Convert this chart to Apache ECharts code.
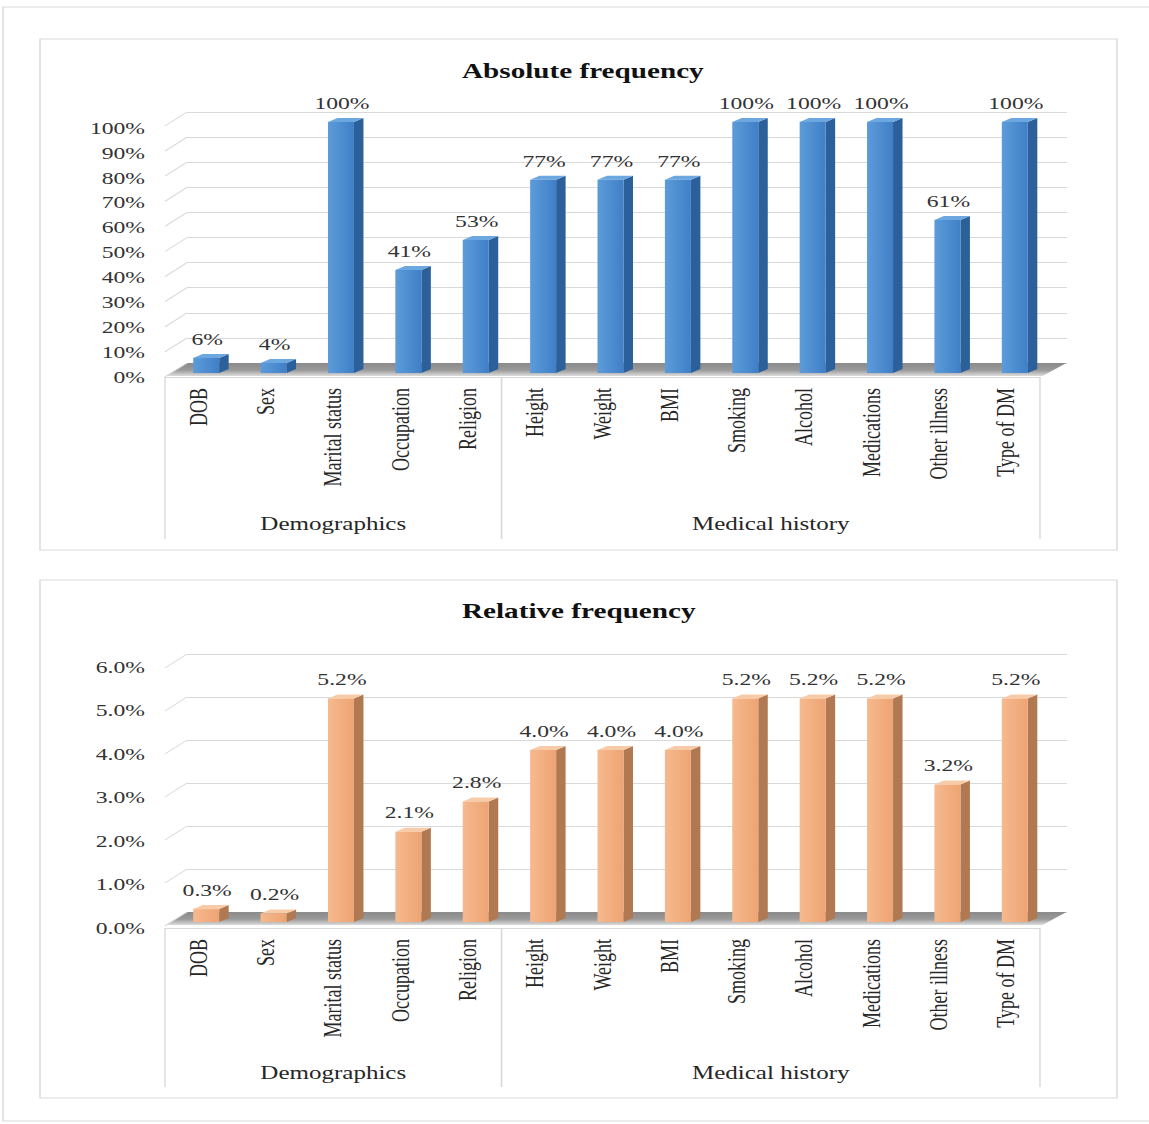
<!DOCTYPE html>
<html>
<head>
<meta charset="utf-8">
<script src="https://cdn.jsdelivr.net/npm/echarts@6/dist/echarts.min.js"></script>
<style>
  html, body { margin: 0; padding: 0; background: #ffffff; overflow: hidden; }
  #wrap { width: 1149px; height: 1124px; position: relative; overflow: hidden; }
  #chart { position: absolute; left: 0; top: 0; height: 1124px; transform-origin: 0 0; }
</style>
</head>
<body>
<div id="wrap"><div id="chart"></div></div>
<script>
// ---------------- data ----------------
const categories = ['DOB', 'Sex', 'Marital status', 'Occupation', 'Religion', 'Height', 'Weight', 'BMI', 'Smoking', 'Alcohol', 'Medications', 'Other illness', 'Type of DM'];
const groupNames = ['Demographics', 'Medical history'];
const groupSizes = [5, 8];
const absoluteFreq = [6, 4, 100, 41, 53, 77, 77, 77, 100, 100, 100, 61, 100];
const relativeFreq = [0.3, 0.2, 5.2, 2.1, 2.8, 4.0, 4.0, 4.0, 5.2, 5.2, 5.2, 3.2, 5.2];
const absoluteTicks = [0, 10, 20, 30, 40, 50, 60, 70, 80, 90, 100];
const relativeTicks = [0, 1, 2, 3, 4, 5, 6];
const titles = ['Absolute frequency', 'Relative frequency'];

// ---------------- layout (the original picture is horizontally stretched) ----------------
const S = 1.39;                 // horizontal stretch of the original image
const W = 1149 / S;
const X = v => v / S;           // screen x -> chart x
const FONT = "'Liberation Serif', 'Times New Roman', serif";

const el = document.getElementById('chart');
el.style.width = W + 'px';
el.style.transform = 'scaleX(' + S + ')';

const chart = echarts.init(el, null, { renderer: 'svg', width: W, height: 1124 });

const blue = { front: ['#5d9cda', '#3f7fc6'], side: '#2c609b', top: '#6da7e0' };
const orange = { front: ['#f6b98e', '#eea473'], side: '#b07952', top: '#f8cba8' };

// group boundaries (start, end category index)
const groupData = [];
{ let s = 0; groupSizes.forEach((n, i) => { groupData.push([s, s + n - 1, i]); s += n; }); }

const panels = [
  { labelTop: 128, labelBottom: 377, backTop: 112, backBottom: 363, barTop: 122, barBottom: 373,
    max: 100, interval: 10, ticks: absoluteTicks, values: absoluteFreq, colors: blue,
    yfmt: v => v + '%', vfmt: v => v + '%', boxDepth: 162, groupDy: 147, titleTop: 60 },
  { labelTop: 667, labelBottom: 928, backTop: 654, backBottom: 912, barTop: 664, barBottom: 922,
    max: 6, interval: 1, ticks: relativeTicks, values: relativeFreq, colors: orange,
    yfmt: v => v.toFixed(1) + '%', vfmt: v => v.toFixed(1) + '%', boxDepth: 159, groupDy: 145, titleTop: 600 }
];

const grid = [], xAxis = [], yAxis = [], series = [], title = [];

panels.forEach((p, k) => {
  const gLab = grid.length, gBack = gLab + 1, gBar = gLab + 2;
  grid.push({ left: X(165), width: X(875), top: p.labelTop, height: p.labelBottom - p.labelTop });
  grid.push({ left: X(187), width: X(1067 - 187), top: p.backTop, height: p.backBottom - p.backTop });
  grid.push({ left: X(172.5), width: X(876), top: p.barTop, height: p.barBottom - p.barTop });

  title.push({
    text: titles[k], left: X(462), top: p.titleTop, padding: 0,
    textStyle: { fontFamily: FONT, fontWeight: 'bold', fontSize: 21, color: '#111' }
  });

  // label plane: category axis + y labels
  xAxis.push({
    type: 'category', gridIndex: gLab, data: categories, boundaryGap: true,
    axisLine: { show: true, lineStyle: { color: '#d9d9d9', width: 1 } },
    axisTick: { show: false },
    axisLabel: { rotate: 90, margin: 11, interval: 0, fontFamily: FONT, fontSize: 18, color: '#262626' },
    splitLine: { show: false }
  });
  yAxis.push({
    type: 'value', gridIndex: gLab, min: 0, max: p.max, interval: p.interval,
    axisLine: { show: false }, axisTick: { show: false }, splitLine: { show: false },
    axisLabel: { margin: X(20), formatter: p.yfmt, fontFamily: FONT, fontSize: 17, color: '#333333' }
  });
  // back wall
  xAxis.push({ type: 'value', gridIndex: gBack, min: 0, max: 1, show: false });
  yAxis.push({
    type: 'value', gridIndex: gBack, min: 0, max: p.max, interval: p.interval,
    axisLine: { show: false }, axisTick: { show: false }, axisLabel: { show: false },
    splitLine: { show: true, lineStyle: { color: '#d9d9d9', width: 1 } }
  });
  // bar plane
  xAxis.push({ type: 'category', gridIndex: gBar, data: categories, show: false });
  yAxis.push({ type: 'value', gridIndex: gBar, min: 0, max: p.max, interval: p.interval, show: false });

  // diagonal side-wall lines
  series.push({
    type: 'custom', xAxisIndex: gBack, yAxisIndex: gBack, silent: true, clip: false,
    data: p.ticks.map(t => [0, t]),
    renderItem: (params, api) => {
      const pt = api.coord([0, api.value(1)]);
      return { type: 'line', shape: { x1: pt[0], y1: pt[1], x2: pt[0] - X(22), y2: pt[1] + 14 },
        style: { stroke: '#d9d9d9', lineWidth: 1 } };
    }
  });

  // floor
  series.push({
    type: 'custom', xAxisIndex: gBar, yAxisIndex: gBar, silent: true, clip: false, z: 1,
    data: [[0, 0]],
    renderItem: (params, api) => {
      const band = api.size([1, 0])[0];
      const a = api.coord([0, 0]), b = api.coord([categories.length - 1, 0]);
      const L = a[0] - band / 2, R = b[0] + band / 2, y0 = a[1];
      return {
        type: 'polygon',
        shape: { points: [[L - X(7), y0 + 3], [R - X(6), y0 + 3], [R + X(18), y0 - 10], [L + X(15), y0 - 10]] },
        style: { fill: { type: 'linear', x: 0, y: 0, x2: 0, y2: 1,
          colorStops: [{ offset: 0, color: '#8a8a8a' }, { offset: 0.55, color: '#9a9a9a' }, { offset: 1, color: '#dcdcdc' }] } }
      };
    }
  });

  // 3D bars with value labels
  const c = p.colors;
  series.push({
    type: 'custom', name: titles[k], xAxisIndex: gBar, yAxisIndex: gBar, clip: false, z: 3,
    data: p.values.map((v, i) => [i, v]),
    renderItem: (params, api) => {
      const i = api.value(0), v = api.value(1);
      const base = api.coord([i, 0]), top = api.coord([i, v]);
      const w = X(26), dx = X(9.5), dy = -4;
      const x0 = base[0] - w / 2, x1 = base[0] + w / 2, yb = base[1], yt = top[1];
      return {
        type: 'group',
        children: [
          { type: 'polygon', shape: { points: [[x1, yb], [x1 + dx, yb + dy], [x1 + dx, yt + dy], [x1, yt]] },
            style: { fill: c.side } },
          { type: 'polygon', shape: { points: [[x0, yt], [x1, yt], [x1 + dx, yt + dy], [x0 + dx, yt + dy]] },
            style: { fill: c.top } },
          { type: 'rect', shape: { x: x0, y: yt, width: w, height: yb - yt },
            style: { fill: { type: 'linear', x: 0, y: 0, x2: 1, y2: 0,
              colorStops: [{ offset: 0, color: c.front[0] }, { offset: 1, color: c.front[1] }] } } },
          { type: 'text', x: base[0] + X(1), y: yt - 19,
            style: { text: p.vfmt(v), fontFamily: FONT, fontSize: 17, fill: '#333', align: 'center', verticalAlign: 'middle' } }
        ]
      };
    }
  });

  // category group box + group labels
  series.push({
    type: 'custom', xAxisIndex: gLab, yAxisIndex: gLab, silent: true, clip: false,
    data: groupData,
    renderItem: (params, api) => {
      const band = api.size([1, 0])[0];
      const a = api.coord([api.value(0), 0]), b = api.coord([api.value(1), 0]);
      const L = a[0] - band / 2, R = b[0] + band / 2, y0 = a[1];
      const st = { stroke: '#d9d9d9', lineWidth: 1 };
      return {
        type: 'group',
        children: [
          { type: 'line', shape: { x1: L, y1: y0, x2: L, y2: y0 + p.boxDepth }, style: st },
          { type: 'line', shape: { x1: R, y1: y0, x2: R, y2: y0 + p.boxDepth }, style: st },
          { type: 'text', x: (L + R) / 2, y: y0 + p.groupDy,
            style: { text: groupNames[api.value(2)], fontFamily: FONT, fontSize: 18, fill: '#262626',
              align: 'center', verticalAlign: 'middle' } }
        ]
      };
    }
  });
});

const frame = { stroke: '#d9d9d9', lineWidth: 1, fill: 'none' };
chart.setOption({
  animation: false,
  backgroundColor: '#ffffff',
  title: title,
  grid: grid,
  xAxis: xAxis,
  yAxis: yAxis,
  series: series,
  graphic: [
    { type: 'rect', silent: true, z: -10, shape: { x: X(3), y: 7, width: X(1160), height: 1114 }, style: frame },
    { type: 'rect', silent: true, z: -10, shape: { x: X(40), y: 39, width: X(1077), height: 511 }, style: frame },
    { type: 'rect', silent: true, z: -10, shape: { x: X(40), y: 580, width: X(1077), height: 518 }, style: frame }
  ]
});
</script>
</body>
</html>
